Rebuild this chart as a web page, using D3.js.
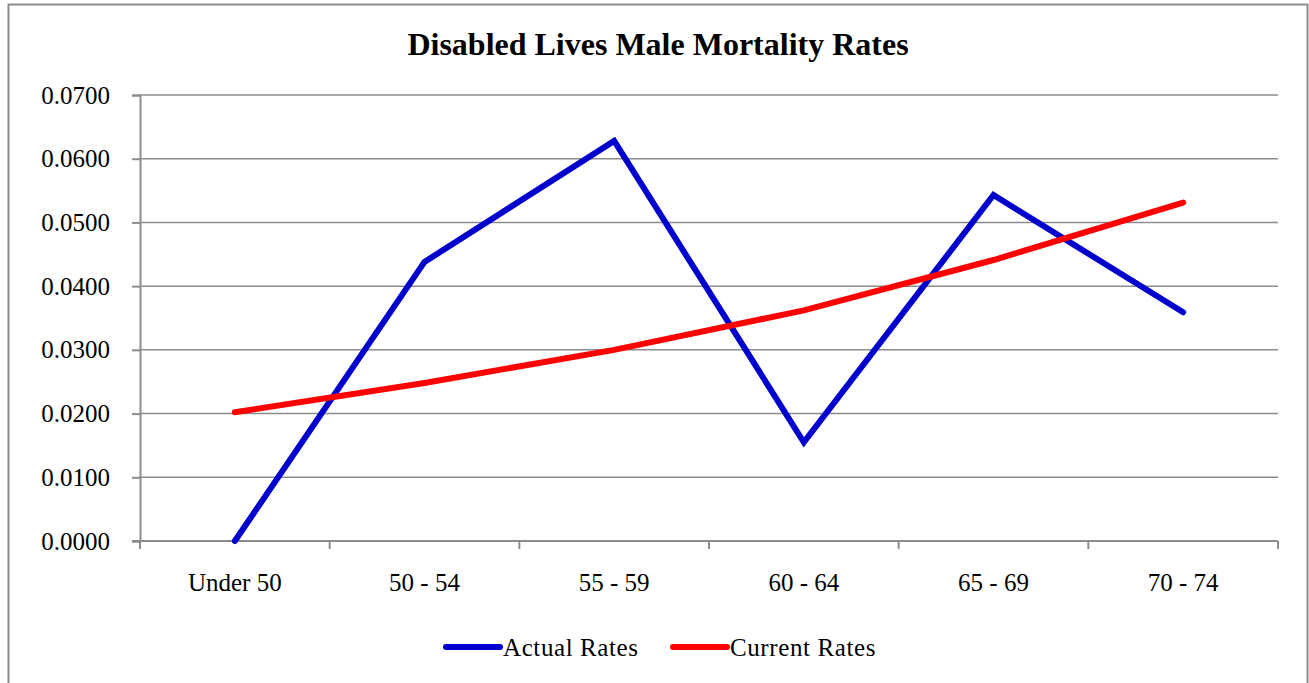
<!DOCTYPE html>
<html>
<head>
<meta charset="utf-8">
<script src="https://cdn.jsdelivr.net/npm/d3@7"></script>
<style>
  body { margin: 0; background: #fff; }
  text { font-family: "Liberation Serif", "Times New Roman", serif; fill: #000; }
</style>
</head>
<body>
<svg></svg>
<script>
var categories = ['Under 50', '50 - 54', '55 - 59', '60 - 64', '65 - 69', '70 - 74'];
var actualRates = [0.0000, 0.0438, 0.0628, 0.0155, 0.0543, 0.0359];
var currentRates = [0.0202, 0.0248, 0.0300, 0.0362, 0.0441, 0.0531];
var yTicks = [0, 0.01, 0.02, 0.03, 0.04, 0.05, 0.06, 0.07];
var seriesNames = ['Actual Rates', 'Current Rates'];
var seriesColors = ['#0000cc', '#ff0000'];

function drawLineChart() {
    var size = { w: 1309, h: 683 };
    var plot = { left: 140, right: 1278, top: 95, bottom: 541 };
    var svg = d3.select('svg')
        .attr('width', size.w)
        .attr('height', size.h);

    // outer frame (bottom edge falls off the picture)
    svg.append('path')
        .attr('d', 'M8.5,' + size.h + 'V4.5H1307.5V' + size.h)
        .attr('fill', 'none')
        .attr('stroke', '#8c8c8c')
        .attr('stroke-width', 2);

    svg.append('text')
        .attr('x', 658)
        .attr('y', 55)
        .attr('text-anchor', 'middle')
        .style('font-size', '32px')
        .style('font-weight', 'bold')
        .text('Disabled Lives Male Mortality Rates');

    var x = d3.scaleBand().domain(categories).range([plot.left, plot.right]);
    var y = d3.scaleLinear().domain([0, 0.07]).range([plot.bottom, plot.top]);

    // gridlines
    svg.append('g').selectAll('line')
        .data(yTicks.slice(1))
        .enter()
        .append('line')
        .attr('x1', plot.left)
        .attr('x2', plot.right)
        .attr('y1', d => y(d))
        .attr('y2', d => y(d))
        .attr('stroke', '#8c8c8c')
        .attr('stroke-width', 1.5);

    var yAxis = d3.axisLeft(y)
        .tickValues(yTicks)
        .tickFormat(d3.format('.4f'))
        .tickSize(8)
        .tickPadding(22);

    var gy = svg.append('g')
        .attr('transform', 'translate(' + plot.left + ',0)')
        .call(yAxis);
    gy.selectAll('path, line').attr('stroke', '#8c8c8c').attr('stroke-width', 2);
    gy.selectAll('text').style('font-size', '25px').style('font-family', '"Liberation Serif", serif');

    // x axis: ticks at category boundaries
    var gx = svg.append('g').attr('class', 'xaxis');
    gx.append('line')
        .attr('x1', plot.left - 8)
        .attr('x2', plot.right)
        .attr('y1', plot.bottom)
        .attr('y2', plot.bottom)
        .attr('stroke', '#8c8c8c')
        .attr('stroke-width', 2);
    var bounds = categories.map(c => x(c)).concat([x(categories[categories.length - 1]) + x.bandwidth()]);
    gx.selectAll('line.tick')
        .data(bounds)
        .enter()
        .append('line')
        .attr('class', 'tick')
        .attr('x1', d => d)
        .attr('x2', d => d)
        .attr('y1', plot.bottom)
        .attr('y2', plot.bottom + 8)
        .attr('stroke', '#8c8c8c')
        .attr('stroke-width', 2);
    gx.selectAll('text')
        .data(categories)
        .enter()
        .append('text')
        .attr('x', d => x(d) + x.bandwidth() / 2)
        .attr('y', 591)
        .attr('text-anchor', 'middle')
        .style('font-size', '25px')
        .text(d => d);

    var line = d3.line()
        .x((d, i) => x(categories[i]) + x.bandwidth() / 2)
        .y(d => y(d));

    [actualRates, currentRates].forEach((s, i) => {
        svg.append('path')
            .datum(s)
            .attr('d', line)
            .attr('fill', 'none')
            .attr('stroke', seriesColors[i])
            .attr('stroke-width', 6)
            .attr('stroke-linejoin', 'miter')
            .attr('stroke-linecap', 'round');
    });

    // legend
    var legendX = [446, 673];
    var legend = svg.append('g');
    seriesNames.forEach((n, i) => {
        legend.append('line')
            .attr('x1', legendX[i])
            .attr('x2', legendX[i] + 54)
            .attr('y1', 647)
            .attr('y2', 647)
            .attr('stroke', seriesColors[i])
            .attr('stroke-width', 6)
            .attr('stroke-linecap', 'round');
        legend.append('text')
            .attr('x', legendX[i] + 57)
            .attr('y', 656)
            .style('font-size', '25px')
            .style('letter-spacing', '0.6px')
            .text(n);
    });
}

drawLineChart();
</script>
</body>
</html>
